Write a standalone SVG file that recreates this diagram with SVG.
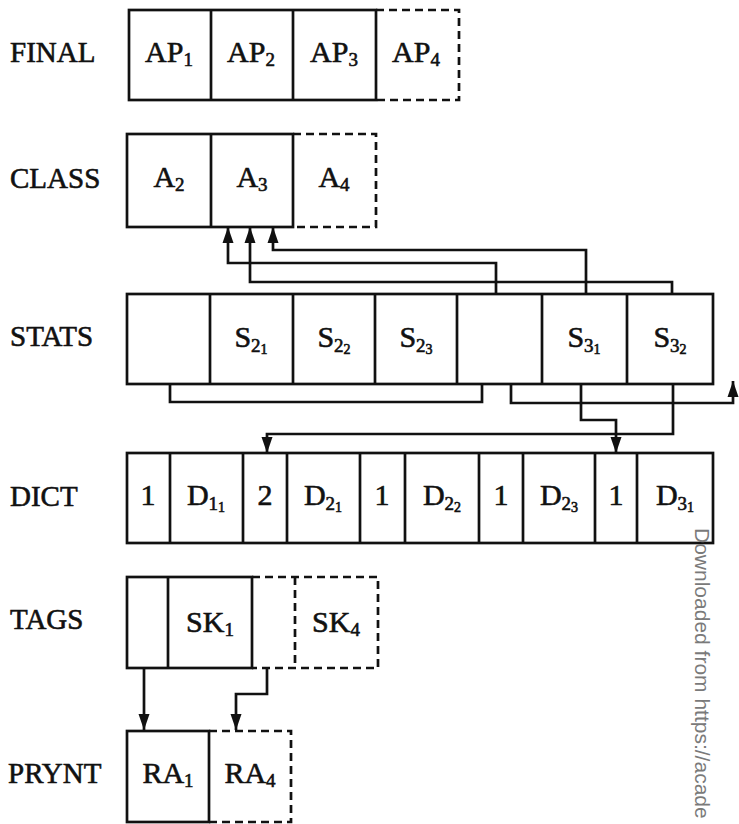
<svg xmlns="http://www.w3.org/2000/svg" width="739" height="824" viewBox="0 0 739 824">
  <style>
    .box { fill: none; stroke: #111; stroke-width: 2.7; }
    .dash { fill: none; stroke: #111; stroke-width: 2.7; stroke-dasharray: 8 5; }
    .wire { fill: none; stroke: #111; stroke-width: 2.7; }
    .arr { marker-end: url(#ah); }
    text { font-family: "Liberation Serif", "Times New Roman", serif; fill: #111; stroke: #111; stroke-width: 0.6; }
    .lbl { font-size: 29px; }
    .cell { font-size: 30px; text-anchor: middle; }
    .s1 { font-size: 19px; }
    .s2 { font-size: 14px; }
    .wm { font-family: "Liberation Sans", Arial, sans-serif; font-size: 21px; fill: #7a7a7a; stroke: none; }
  </style>
  <defs>
    <marker id="ah" markerUnits="userSpaceOnUse" markerWidth="16" markerHeight="12" refX="16" refY="6" orient="auto" viewBox="0 0 16 12">
      <path d="M0,0.5 L16,6 L0,11.5 z" fill="#111"/>
    </marker>
  </defs>

  <!-- row labels -->
  <g id="labels">
    <text class="lbl" x="10" y="62">FINAL</text>
    <text class="lbl" x="10" y="188">CLASS</text>
    <text class="lbl" x="10" y="346">STATS</text>
    <text class="lbl" x="10" y="506">DICT</text>
    <text class="lbl" x="10" y="629">TAGS</text>
    <text class="lbl" x="8" y="783">PRYNT</text>
  </g>

  <!-- FINAL array -->
  <g id="final">
    <rect class="box" x="129" y="10" width="247" height="90"/>
    <path class="box" d="M211,10 V100 M293,10 V100"/>
    <path class="dash" d="M376,10 H459 V100 H376"/>
    <text class="cell" x="169" y="62">AP<tspan class="s1" dy="4">1</tspan></text>
    <text class="cell" x="251" y="62">AP<tspan class="s1" dy="4">2</tspan></text>
    <text class="cell" x="334" y="62">AP<tspan class="s1" dy="4">3</tspan></text>
    <text class="cell" x="416" y="62">AP<tspan class="s1" dy="4">4</tspan></text>
  </g>

  <!-- CLASS array -->
  <g id="class">
    <rect class="box" x="127" y="134" width="166" height="93"/>
    <path class="box" d="M211,134 V227"/>
    <path class="dash" d="M293,134 H376 V227 H293"/>
    <text class="cell" x="169" y="187">A<tspan class="s1" dy="4">2</tspan></text>
    <text class="cell" x="252" y="187">A<tspan class="s1" dy="4">3</tspan></text>
    <text class="cell" x="334" y="187">A<tspan class="s1" dy="4">4</tspan></text>
  </g>

  <!-- STATS array -->
  <g id="stats">
    <rect class="box" x="127" y="294" width="586" height="90"/>
    <path class="box" d="M210,294 V384 M293,294 V384 M375,294 V384 M457,294 V384 M542,294 V384 M627,294 V384"/>
    <text class="cell" x="251" y="347">S<tspan class="s1" dy="5">2</tspan><tspan class="s2" dy="2">1</tspan></text>
    <text class="cell" x="334" y="347">S<tspan class="s1" dy="5">2</tspan><tspan class="s2" dy="2">2</tspan></text>
    <text class="cell" x="416" y="347">S<tspan class="s1" dy="5">2</tspan><tspan class="s2" dy="2">3</tspan></text>
    <text class="cell" x="584" y="347">S<tspan class="s1" dy="5">3</tspan><tspan class="s2" dy="2">1</tspan></text>
    <text class="cell" x="670" y="347">S<tspan class="s1" dy="5">3</tspan><tspan class="s2" dy="2">2</tspan></text>
  </g>

  <!-- DICT array -->
  <g id="dict">
    <rect class="box" x="127" y="453" width="586" height="90"/>
    <path class="box" d="M170,453 V543 M243,453 V543 M287,453 V543 M360,453 V543 M405,453 V543 M479,453 V543 M523,453 V543 M595,453 V543 M637,453 V543"/>
    <text class="cell" x="148" y="505">1</text>
    <text class="cell" x="206" y="505">D<tspan class="s1" dy="5">1</tspan><tspan class="s2" dy="2">1</tspan></text>
    <text class="cell" x="265" y="505">2</text>
    <text class="cell" x="323" y="505">D<tspan class="s1" dy="5">2</tspan><tspan class="s2" dy="2">1</tspan></text>
    <text class="cell" x="382" y="505">1</text>
    <text class="cell" x="442" y="505">D<tspan class="s1" dy="5">2</tspan><tspan class="s2" dy="2">2</tspan></text>
    <text class="cell" x="501" y="505">1</text>
    <text class="cell" x="559" y="505">D<tspan class="s1" dy="5">2</tspan><tspan class="s2" dy="2">3</tspan></text>
    <text class="cell" x="616" y="505">1</text>
    <text class="cell" x="675" y="505">D<tspan class="s1" dy="5">3</tspan><tspan class="s2" dy="2">1</tspan></text>
  </g>

  <!-- TAGS array -->
  <g id="tags">
    <rect class="box" x="127" y="577" width="125" height="91"/>
    <path class="box" d="M168,577 V668"/>
    <path class="dash" d="M252,577 H378 V668 H252 M295,577 V668"/>
    <text class="cell" x="210" y="632">SK<tspan class="s1" dy="4">1</tspan></text>
    <text class="cell" x="336" y="632">SK<tspan class="s1" dy="4">4</tspan></text>
  </g>

  <!-- PRYNT array -->
  <g id="prynt">
    <rect class="box" x="127" y="731" width="82" height="91"/>
    <path class="dash" d="M209,731 H291 V822 H209"/>
    <text class="cell" x="168" y="783">RA<tspan class="s1" dy="4">1</tspan></text>
    <text class="cell" x="250" y="783">RA<tspan class="s1" dy="4">4</tspan></text>
  </g>

  <!-- pointers between arrays -->
  <g id="connectors">
    <path class="wire arr" d="M496,294 V263 H228 V227"/>
    <path class="wire arr" d="M672,294 V282 H250 V227"/>
    <path class="wire arr" d="M586,294 V250 H273 V227"/>
    <path class="wire" d="M170,384 V402 H482 V384"/>
    <path class="wire arr" d="M511,384 V403 H733 V381"/>
    <path class="wire arr" d="M581,384 V420 H616 V453"/>
    <path class="wire arr" d="M673,384 V434 H267 V453"/>
    <path class="wire arr" d="M144,668 V730"/>
    <path class="wire arr" d="M267,668 V694 H236 V730"/>
  </g>

  <text class="wm" transform="translate(695,528) rotate(90)">Downloaded from https://acade</text>
</svg>
